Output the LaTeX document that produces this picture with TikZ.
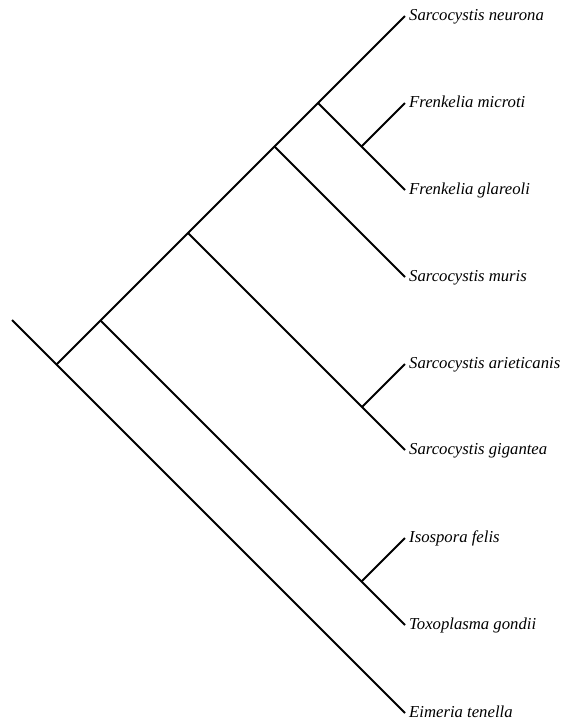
\documentclass[tikz,border=0pt]{standalone}
\usepackage{fontspec}
\setmainfont{Liberation Serif}
\begin{document}
\begin{tikzpicture}[x=1pt,y=-1pt,
  branch/.style={line width=2pt},
  taxon/.style={anchor=base west,inner sep=0pt,font=\fontsize{16.7}{20}\selectfont\itshape,xshift=4pt,yshift=-4pt}]
\useasboundingbox (0,0) rectangle (566,721);
% tips
\coordinate (t1) at (405,16);
\coordinate (t2) at (405,103);
\coordinate (t3) at (405,190);
\coordinate (t4) at (405,277);
\coordinate (t5) at (405,364);
\coordinate (t6) at (405,450);
\coordinate (t7) at (405,538);
\coordinate (t8) at (405,625);
\coordinate (t9) at (405,713);
% internal nodes
\coordinate (root) at (12,320);
\coordinate (A) at (56.5,364.5);
\coordinate (B) at (100.5,320.5);
\coordinate (C) at (188,233);
\coordinate (D) at (274.5,146.5);
\coordinate (E) at (318,103);
\coordinate (F) at (361.5,146.5);
\coordinate (G) at (362,407);
\coordinate (H) at (361.5,581.5);
% branches
\draw[branch] (root) -- (t9);
\draw[branch] (A) -- (t1);
\draw[branch] (E) -- (t3);
\draw[branch] (F) -- (t2);
\draw[branch] (D) -- (t4);
\draw[branch] (C) -- (t6);
\draw[branch] (G) -- (t5);
\draw[branch] (B) -- (t8);
\draw[branch] (H) -- (t7);
% labels
\node[taxon] (l1) at (t1) {Sarcocystis neurona};
\node[taxon] (l2) at (t2) {Frenkelia microti};
\node[taxon] (l3) at (t3) {Frenkelia glareoli};
\node[taxon] (l4) at (t4) {Sarcocystis muris};
\node[taxon] (l5) at (t5) {Sarcocystis arieticanis};
\node[taxon] (l6) at (t6) {Sarcocystis gigantea};
\node[taxon] (l7) at (t7) {Isospora felis};
\node[taxon] (l8) at (t8) {Toxoplasma gondii};
\node[taxon] (l9) at (t9) {Eimeria tenella};
\end{tikzpicture}
\end{document}
